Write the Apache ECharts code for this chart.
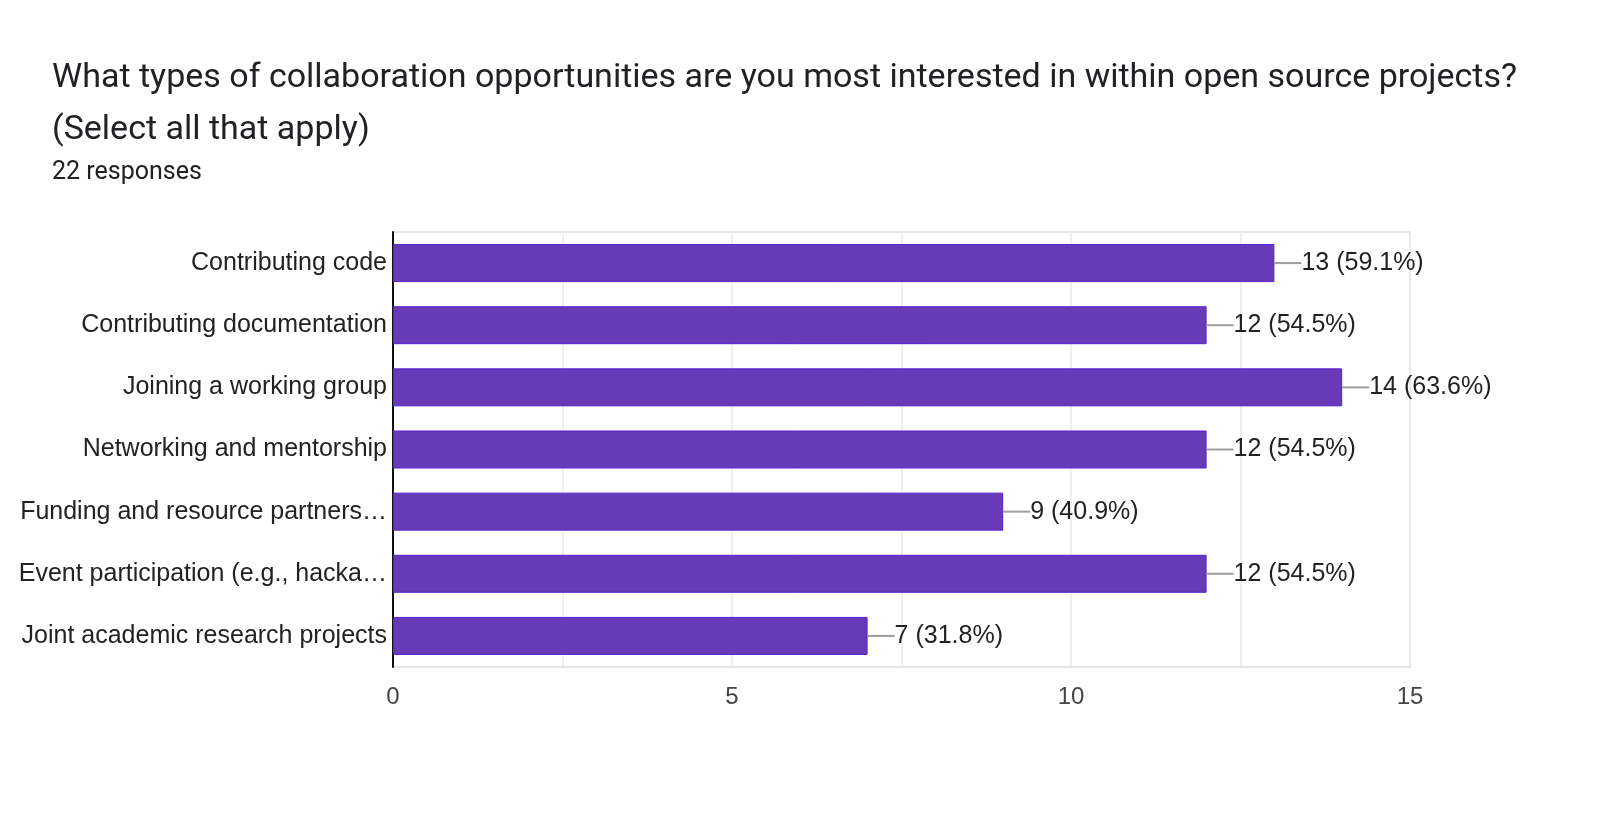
<!DOCTYPE html>
<html>
<head>
<meta charset="utf-8">
<title>Collaboration opportunities</title>
<script src="https://cdn.jsdelivr.net/npm/echarts@6/dist/echarts.min.js"></script>
<style>
  html, body { margin: 0; padding: 0; background: #fff; }
  #chart { width: 1600px; height: 813px; }
</style>
</head>
<body>
<div id="chart"></div>
<script>
const categories = [
    'Contributing code',
    'Contributing documentation',
    'Joining a working group',
    'Networking and mentorship',
    'Funding and resource partners…',
    'Event participation (e.g., hacka…',
    'Joint academic research projects'
]
const counts = [13, 12, 14, 12, 9, 12, 7]
const percents = ['59.1%', '54.5%', '63.6%', '54.5%', '40.9%', '54.5%', '31.8%']
const xTicks = [0, 5, 10, 15]

let chart = echarts.init(document.getElementById('chart'))

let option = {
    animation: false,
    title: [{
        text: 'What types of collaboration opportunities are you most interested in within open source projects?\n(Select all that apply)',
        left: 52,
        top: 52,
        padding: 0,
        textStyle: {
            fontFamily: 'Roboto',
            fontWeight: 'normal',
            fontSize: 34,
            lineHeight: 52,
            color: '#202124'
        }
    }, {
        text: '22 responses',
        left: 52,
        top: 160,
        padding: 0,
        textStyle: {
            fontFamily: 'Roboto',
            fontWeight: 'normal',
            fontSize: 25,
            color: '#202124'
        }
    }],
    grid: {
        left: 393,
        right: 190,
        top: 232,
        bottom: 146,
        show: true,
        borderColor: '#e6e6e6',
        borderWidth: 2
    },
    xAxis: {
        type: 'value',
        min: 0,
        max: 15,
        interval: 2.5,
        axisLine: { show: false },
        axisTick: { show: false },
        splitLine: { lineStyle: { color: '#ebebeb', width: 1.5 } },
        axisLabel: {
            margin: 18,
            fontFamily: 'Liberation Sans',
            fontSize: 24,
            color: '#444',
            formatter: v => xTicks.includes(v) ? String(v) : ''
        }
    },
    yAxis: {
        type: 'category',
        inverse: true,
        data: categories,
        axisLine: { lineStyle: { color: '#111', width: 2 } },
        axisTick: { show: false },
        axisLabel: {
            margin: 6,
            fontFamily: 'Liberation Sans',
            fontSize: 25,
            color: '#222'
        }
    },
    series: [{
        type: 'bar',
        data: counts,
        barWidth: 38,
        itemStyle: {
            color: '#673ab7',
            borderColor: '#5a1fd0',
            borderWidth: 1
        },
        label: {
            show: true,
            position: 'right',
            distance: 0,
            formatter: p => '{ln|}' + p.value + ' (' + percents[p.dataIndex] + ')',
            fontFamily: 'Liberation Sans',
            fontSize: 25,
            color: '#222',
            rich: {
                ln: {
                    width: 27,
                    height: 2,
                    backgroundColor: '#9e9e9e',
                    verticalAlign: 'middle'
                }
            }
        }
    }]
}

chart.setOption(option)
</script>
</body>
</html>
